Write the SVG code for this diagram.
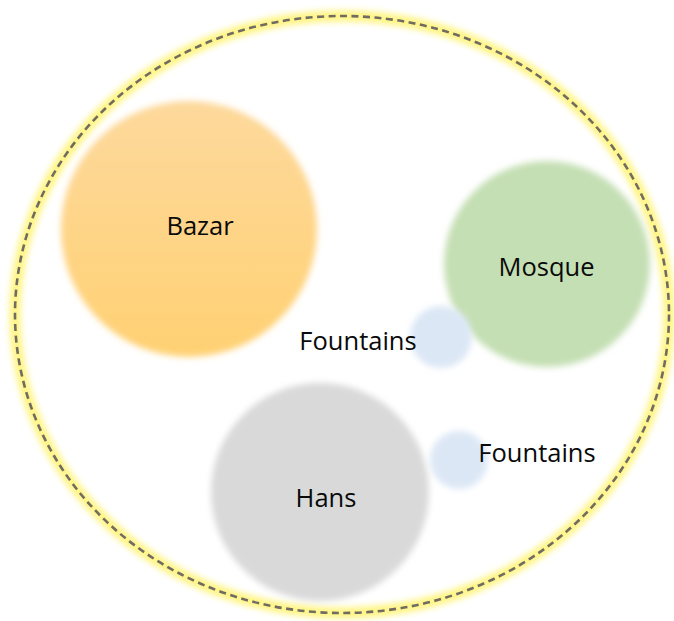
<svg xmlns="http://www.w3.org/2000/svg" width="674" height="621" viewBox="0 0 674 621">
  <defs>
    <filter id="soft" x="-20%" y="-20%" width="140%" height="140%">
      <feGaussianBlur stdDeviation="3"/>
    </filter>
    <filter id="glow" x="-10%" y="-10%" width="120%" height="120%">
      <feGaussianBlur stdDeviation="3"/>
    </filter>
    <linearGradient id="bazarGrad" x1="0" y1="0" x2="0" y2="1">
      <stop offset="0" stop-color="#FDD99C"/>
      <stop offset="1" stop-color="#FFD174"/>
    </linearGradient>
  </defs>
  <style>
    .lbl { font-family: "Open Sans", "Liberation Sans", sans-serif; font-size: 25.5px; fill: #0A0A0A; text-anchor: middle; }
    .fountain { fill: #DCE7F5; filter: url(#soft); }
  </style>
  <rect width="674" height="621" fill="#FFFFFF"/>
  <g id="boundary">
    <ellipse cx="342" cy="314.5" rx="327" ry="298.5" fill="none" stroke="#FFF36A" stroke-width="11" filter="url(#glow)" opacity="0.85"/>
    <ellipse cx="342" cy="314.5" rx="327" ry="298.5" fill="none" stroke="#716C62" stroke-width="2.6" stroke-dasharray="7 4.5"/>
  </g>
  <g id="bazar">
    <circle cx="189" cy="229" r="128" fill="url(#bazarGrad)" filter="url(#soft)"/>
    <text class="lbl" x="200" y="235">Bazar</text>
  </g>
  <g id="mosque">
    <circle cx="547" cy="264" r="103" fill="#C5DFB4" filter="url(#soft)"/>
    <text class="lbl" x="546.5" y="276">Mosque</text>
  </g>
  <g id="fountains1">
    <circle class="fountain" cx="441" cy="337" r="31"/>
    <text class="lbl" x="358" y="350">Fountains</text>
  </g>
  <g id="hans">
    <circle cx="320" cy="492" r="109" fill="#D9D9D9" filter="url(#soft)"/>
    <text class="lbl" x="326" y="507">Hans</text>
  </g>
  <g id="fountains2">
    <circle class="fountain" cx="459" cy="460" r="29"/>
    <text class="lbl" x="537" y="462">Fountains</text>
  </g>
  <g id="connectors"></g>
</svg>
